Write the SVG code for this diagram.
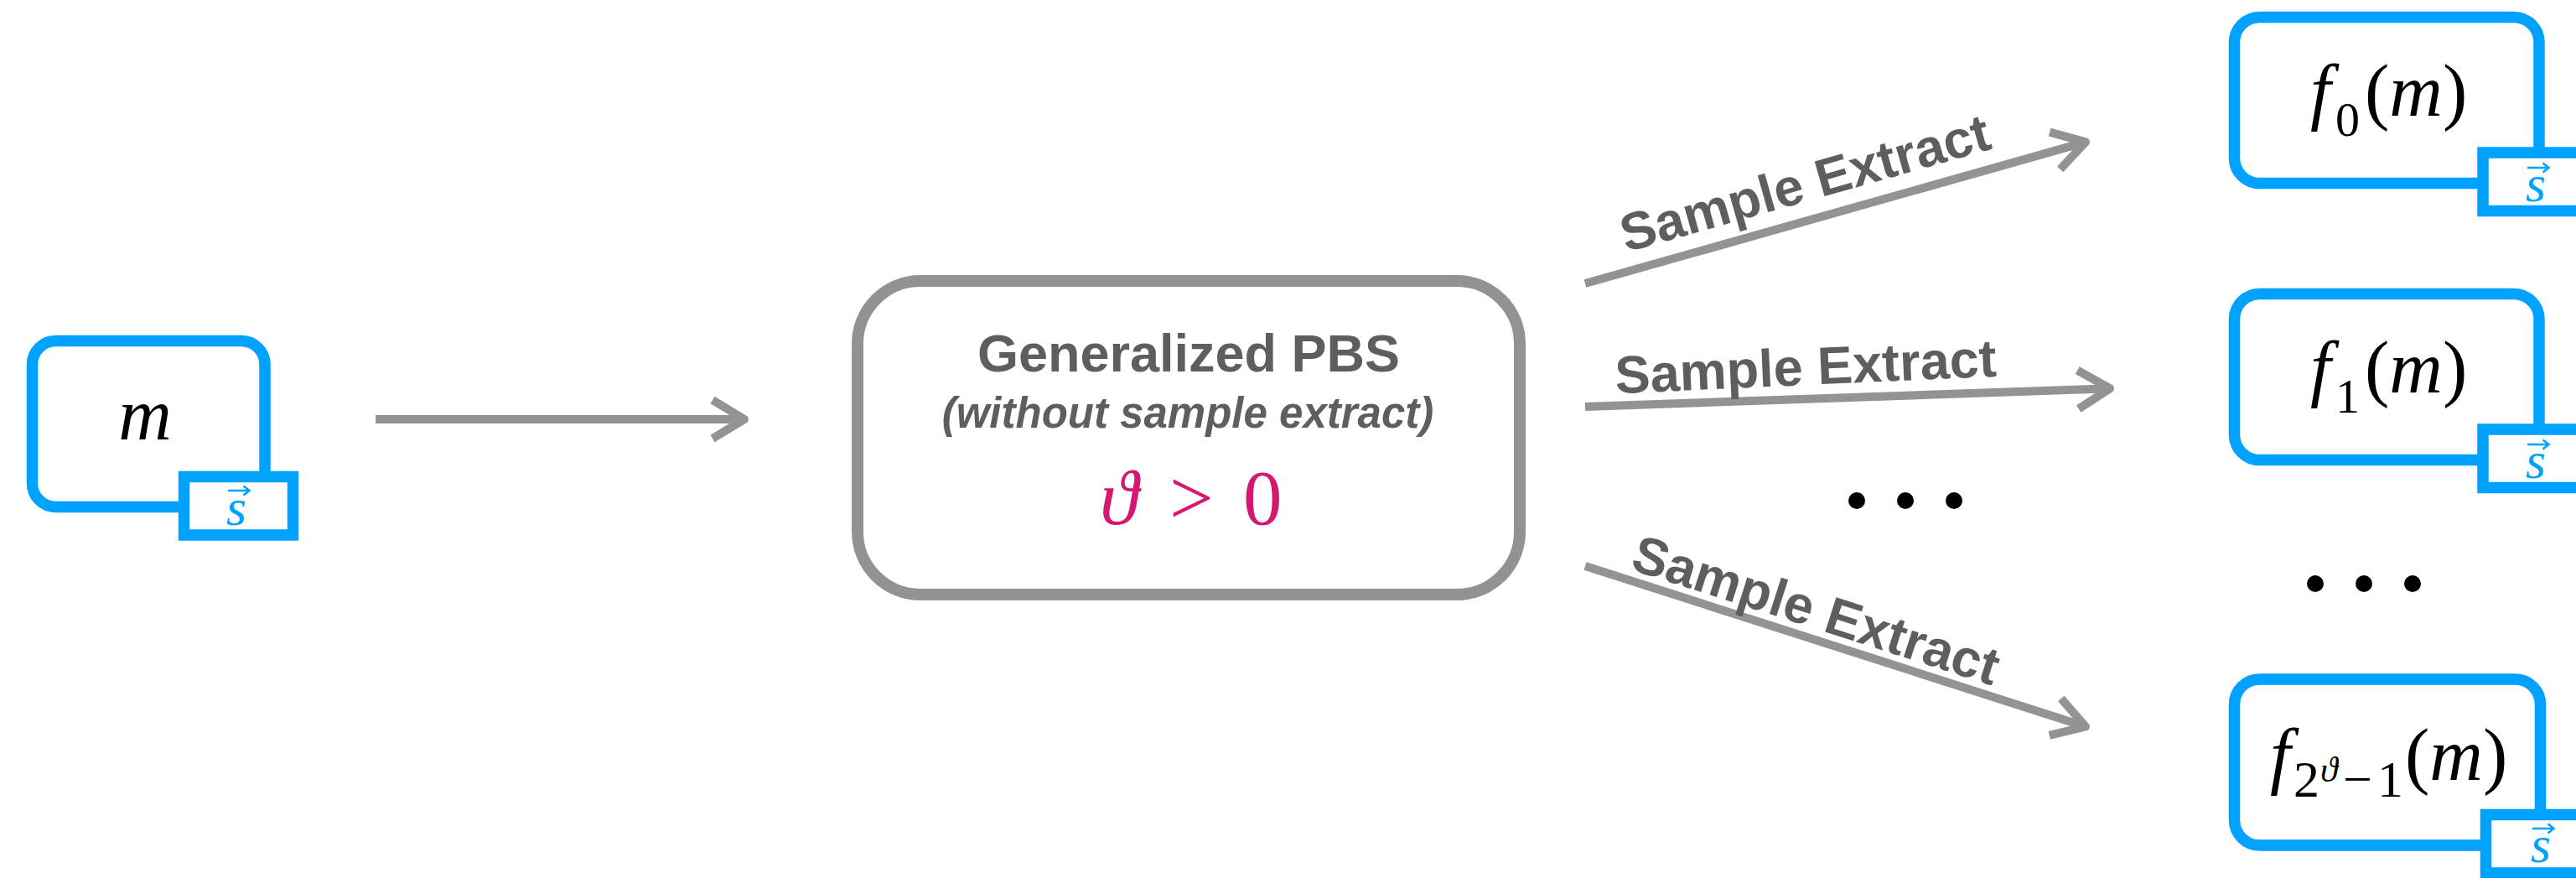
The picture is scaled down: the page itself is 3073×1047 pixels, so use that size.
<svg xmlns="http://www.w3.org/2000/svg" width="3073" height="1047" viewBox="0 0 3073 1047">
<style>
.bbox{fill:#fff;stroke:#00A2FF;stroke-width:13.5}
.sbox{fill:#fff;stroke:#00A2FF;stroke-width:13.5}
.pbs{fill:#fff;stroke:#929292;stroke-width:14}
.conn{stroke:#939393;stroke-width:10;fill:none}
.lbl{font-family:"Liberation Sans",Arial,sans-serif;font-weight:bold;font-size:63px;fill:#5E5E5E;text-anchor:middle}
.math{font-family:"Liberation Serif","DejaVu Serif",serif;font-size:88px;fill:#000}
.vec{font-family:"Liberation Serif","DejaVu Serif",serif;font-size:62px;font-style:italic;fill:#00A2FF;text-anchor:middle}
.it{font-style:italic}
.dot{fill:#000}
</style>
<defs>
<marker id="chev" markerUnits="userSpaceOnUse" viewBox="-50 -32 60 64" refX="0" refY="0" markerWidth="60" markerHeight="64" orient="auto">
<path d="M-38,-23 L0,0 L-38,23" fill="none" stroke="#939393" stroke-width="10" stroke-linejoin="round"/>
</marker>
<path id="va" d="M-10,0 H15 M8.5,-5.5 L15.5,0 L8.5,5.5" fill="none" stroke="#00A2FF" stroke-width="2.6"/>
</defs>
<rect x="0" y="0" width="3073" height="1047" fill="#fff"/>

<g id="connectors">
<line class="conn" x1="448" y1="500" x2="888" y2="500" marker-end="url(#chev)"/>
<line class="conn" x1="1891" y1="338" x2="2488" y2="169.4" marker-end="url(#chev)"/>
<line class="conn" x1="1891" y1="485" x2="2517" y2="463.2" marker-end="url(#chev)"/>
<line class="conn" x1="1891" y1="675" x2="2488" y2="866.5" marker-end="url(#chev)"/>
<text class="lbl" transform="translate(2159,239) rotate(-15.8)">Sample Extract</text>
<text class="lbl" transform="translate(2155,459) rotate(-2.6)">Sample Extract</text>
<text class="lbl" transform="translate(2160,748) rotate(17.8)">Sample Extract</text>
</g>

<g id="node-m">
<rect class="bbox" x="38.5" y="406.5" width="277.5" height="198" rx="28"/>
<rect class="sbox" x="219.5" y="568.5" width="130" height="69.5"/>
<text class="math it" x="173" y="524" text-anchor="middle">m</text>
<text class="vec" x="282" y="626">s</text>
<use href="#va" x="282" y="585"/>
</g>

<g id="node-pbs">
<rect class="pbs" x="1023" y="335" width="790" height="374" rx="75"/>
<text class="lbl" x="1418" y="443" style="font-size:63px">Generalized PBS</text>
<text class="lbl" x="1417" y="510" style="font-size:51px;font-style:italic">(without sample extract)</text>
<text class="math" y="625" style="font-size:93px;fill:#D6176F"><tspan x="1312" class="it">ϑ</tspan><tspan x="1395">&gt;</tspan><tspan x="1483">0</tspan></text>
</g>

<g id="node-f0">
<rect class="bbox" x="2665.5" y="20.5" width="363.5" height="198" rx="30"/>
<rect class="sbox" x="2962" y="182" width="130" height="69.5"/>
<text class="math" y="138"><tspan x="2756" class="it">f</tspan><tspan x="2786" y="162" style="font-size:58px">0</tspan><tspan x="2821" y="138">(</tspan><tspan class="it">m</tspan><tspan>)</tspan></text>
<text class="vec" x="3025" y="240">s</text>
<use href="#va" x="3025" y="200"/>
</g>

<g id="node-f1">
<rect class="bbox" x="2665.5" y="350.5" width="363.5" height="198" rx="30"/>
<rect class="sbox" x="2962" y="512" width="130" height="69.5"/>
<text class="math" y="468"><tspan x="2756" class="it">f</tspan><tspan x="2786" y="492" style="font-size:58px">1</tspan><tspan x="2821" y="468">(</tspan><tspan class="it">m</tspan><tspan>)</tspan></text>
<text class="vec" x="3025" y="570">s</text>
<use href="#va" x="3025" y="530"/>
</g>

<g id="node-f2">
<rect class="bbox" x="2665.5" y="810" width="365" height="198" rx="30"/>
<rect class="sbox" x="2965.5" y="971.5" width="130" height="69.5"/>
<text class="math" y="930"><tspan x="2708" class="it">f</tspan><tspan x="2736" y="950" style="font-size:62px">2</tspan><tspan x="2768" y="932" style="font-size:42px" class="it">ϑ</tspan><tspan x="2795" y="950" style="font-size:62px">−</tspan><tspan x="2836" y="950" style="font-size:62px">1</tspan><tspan x="2869" y="930">(</tspan><tspan class="it">m</tspan><tspan>)</tspan></text>
<text class="vec" x="3031" y="1028">s</text>
<use href="#va" x="3031" y="988"/>
</g>

<g id="dots">
<circle class="dot" cx="2215" cy="597" r="10"/>
<circle class="dot" cx="2273" cy="597" r="10"/>
<circle class="dot" cx="2331" cy="597" r="10"/>
<circle class="dot" cx="2762" cy="696" r="10"/>
<circle class="dot" cx="2820" cy="696" r="10"/>
<circle class="dot" cx="2878" cy="696" r="10"/>
</g>
</svg>
